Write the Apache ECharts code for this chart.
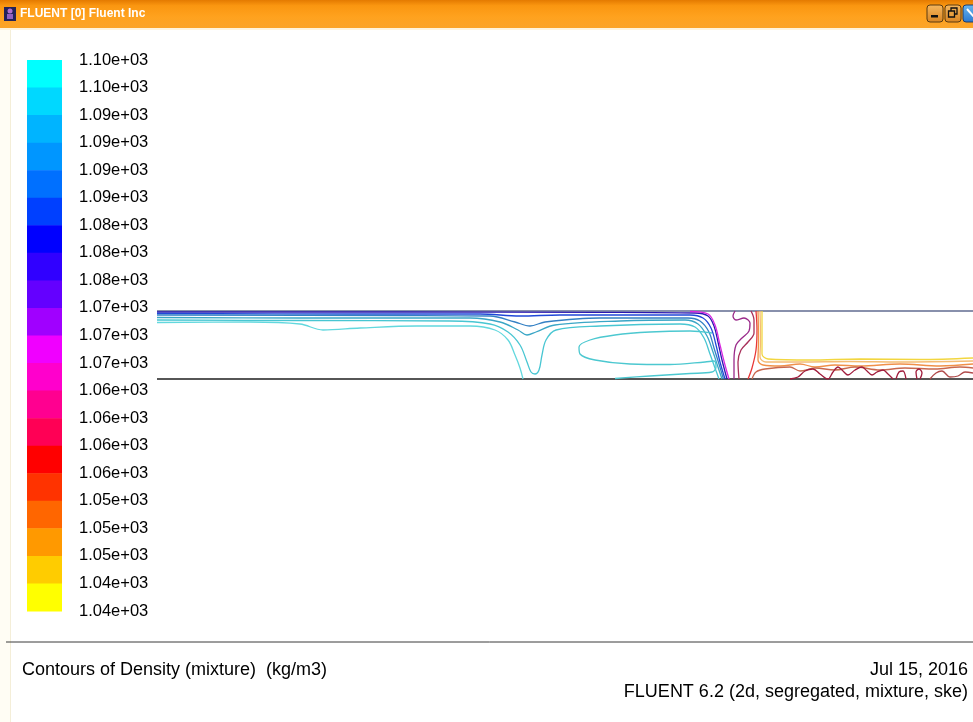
<!DOCTYPE html>
<html>
<head>
<meta charset="utf-8">
<title>Contours of Density (mixture)</title>
<script src="https://cdn.jsdelivr.net/npm/echarts@6/dist/echarts.min.js"></script>
<style>
  html, body { margin: 0; padding: 0; background: #fff; }
  #chart { width: 973px; height: 722px; }
</style>
</head>
<body>
<div id="chart"></div>
<script>
// colour bar: 21 levels (top = max), 20 bands
const levelLabels = [
  "1.10e+03", "1.10e+03", "1.09e+03", "1.09e+03", "1.09e+03", "1.09e+03",
  "1.08e+03", "1.08e+03", "1.08e+03", "1.07e+03", "1.07e+03", "1.07e+03",
  "1.06e+03", "1.06e+03", "1.06e+03", "1.06e+03", "1.05e+03", "1.05e+03",
  "1.05e+03", "1.04e+03", "1.04e+03"
];
const bandColors = [
  "#00ffff", "#00d8ff", "#00b4ff", "#0096ff", "#0070ff", "#0040ff", "#0000ff",
  "#3000ff", "#6400ff", "#a000ff", "#f000ff", "#ff00cc", "#ff0090", "#ff0055",
  "#ff0000", "#ff3300", "#ff6600", "#ff9900", "#ffcc00", "#ffff00"
];

// channel geometry (mm)
const channelLength = 816;
const channelHeight = 68;

// contour lines, [x, y] in mm
const wallLayerA = [[0,67],[243,67],[443,66.7],[538,66],[551,63],[557,53],[561,37],[565,19],[570,0]];
const wallLayerB = [[0,65.5],[193,65],[323,65],[363,63],[403,64],[533,64],[546,61],[554,51],[559,34],[563,17],[568,0]];
const wallLayerC = [[0,64],[243,63.5],[333,63],[358,57],[373,53],[388,57],[443,61],[531,61],[543,58],[552,47],[557,31],[562,15],[566.5,0]];
const wallLayerD = [[0,61.5],[143,61],[313,61],[343,57],[361,49],[370,44],[379,47],[398,54],[463,58],[528,59],[541,55],[550,43],[556,27],[561,12],[565,0]];
const wallLayerE = [[0,59],[143,58.5],[293,58],[333,55],[351,47],[363,34],[370,17],[374,7],[378,5],[382,9],[385,24],[389,39],[399,49],[443,53],[523,55],[538,52],[547,41],[553,25],[558,11],[562,0]];
const wallLayerF = [[0,56.5],[93,57],[143,55],[166,49],[203,51],[260,53],[313,53],[338,49],[351,39],[358,24],[363,11],[366,0]];
const frontMagenta = [[533,67.5],[551,65],[558,54],[563,34],[568,14],[572,0]];
const eddyLoop = [[555,46],[533,48],[493,47],[458,44],[433,39],[422,32],[423,25],[438,19],[473,15],[513,14.5],[548,17],[557,18],[559,12],[555,7],[533,5.5],[493,3],[458,0.5]];
const wakePurple = [[577,0],[577,19],[579,34],[585,41],[592,48],[593,56],[587,61],[579,59],[576,63],[578,68]];
const wakeDarkRed = [[582,0],[581,17],[584,29],[591,37],[597,46],[597,59],[594,68]];
const wakeRed = [[599,68],[600,49],[599,29],[595,11],[591,0]];
const layerOrange = [[601,68],[601.5,39],[601,19],[606,14],[623,13],[643,15],[658,12],[678,14],[703,13],[743,15],[783,13],[816,15]];
const layerLightOrange = [[603,68],[603.5,39],[603,22],[609,17],[643,17],[693,17.5],[743,17],[816,18]];
const layerYellow = [[605,68],[605,39],[605,25],[611,20],[653,19],[703,20],[763,19.5],[816,21]];
const layerBrown = [[595,0],[599,7],[608,10],[633,12],[643,8],[658,11],[678,9],[698,12],[723,9],[748,11],[778,10],[803,12],[816,11]];
const wavesDarkRed = [[633,0],[641,2],[648,8],[656,10],[663,5],[671,0],[676,7],[681,12],[686,8],[691,4],[698,9],[705,12],[710,8],[715,4],[720,7],[726,9],[731,5],[736,0]];
const waveSmallArch = [[739,0],[742,7],[746,8],[749,0]];
const waveSmallLoop = [[760,0],[759,7],[762,10],[765,6],[763,0]];
const waveTail = [[773,0],[779,6],[785,8],[793,2],[801,3],[808,7],[816,6]];

const contours = [
  { data: wallLayerA, color: "#2a18b0" },
  { data: wallLayerB, color: "#2048d8" },
  { data: wallLayerC, color: "#3480c4" },
  { data: wallLayerD, color: "#3aa6c6" },
  { data: wallLayerE, color: "#48c6d2" },
  { data: wallLayerF, color: "#62d8de" },
  { data: frontMagenta, color: "#d828e0" },
  { data: eddyLoop, color: "#4cc8d0" },
  { data: wakePurple, color: "#9a2a8a" },
  { data: wakeDarkRed, color: "#a8305a" },
  { data: wakeRed, color: "#e83838" },
  { data: layerOrange, color: "#f09048" },
  { data: layerLightOrange, color: "#f4bc74" },
  { data: layerYellow, color: "#f2d640" },
  { data: layerBrown, color: "#c8684e" },
  { data: wavesDarkRed, color: "#a01c3c" },
  { data: waveSmallArch, color: "#a01c3c" },
  { data: waveSmallLoop, color: "#a01c3c" },
  { data: waveTail, color: "#b04a4a" }
];

const chart = echarts.init(document.getElementById("chart"), null, { renderer: "canvas" });
const font = "'Liberation Sans', Arial, sans-serif";

const contourSeries = contours.map((c) => ({
  type: "line",
  xAxisIndex: 0,
  yAxisIndex: 0,
  data: c.data,
  showSymbol: false,
  smooth: 0.35,
  silent: true,
  clip: false,
  lineStyle: { color: c.color, width: 1.3 }
}));

const option = {
  animation: false,
  backgroundColor: "#ffffff",
  grid: [
    { left: 157, right: 0, top: 311, bottom: 343 },
    { left: 27, top: 60, width: 35, height: 551 }
  ],
  xAxis: [
    { type: "value", gridIndex: 0, min: 0, max: channelLength, show: false },
    { type: "value", gridIndex: 1, min: 0, max: 1, show: false }
  ],
  yAxis: [
    { type: "value", gridIndex: 0, min: 0, max: channelHeight, show: false },
    {
      type: "value", gridIndex: 1, min: 0, max: 20, interval: 1, position: "right",
      axisLine: { show: false }, axisTick: { show: false }, splitLine: { show: false },
      axisLabel: {
        show: true, margin: 17, color: "#000", fontSize: 16.5, fontFamily: font,
        showMinLabel: true, showMaxLabel: true,
        formatter: (v) => levelLabels[20 - v]
      }
    }
  ],
  graphic: [
    {
      type: "rect", shape: { x: 0, y: 0, width: 973, height: 28 },
      style: {
        fill: new echarts.graphic.LinearGradient(0, 0, 0, 1, [
          { offset: 0, color: "#e47a00" },
          { offset: 0.2, color: "#fa9610" },
          { offset: 0.6, color: "#ffa21e" },
          { offset: 1, color: "#fba428" }
        ])
      }
    },
    { type: "rect", shape: { x: 0, y: 28, width: 973, height: 2 }, style: { fill: "#fff4dc" } },
    { type: "rect", shape: { x: 0, y: 30, width: 10, height: 692 }, style: { fill: "#fffdf4" } },
    { type: "rect", shape: { x: 10, y: 30, width: 1, height: 692 }, style: { fill: "#f4eed8" } },
    { type: "rect", shape: { x: 4, y: 7, width: 12, height: 14 }, style: { fill: "#23235a" } },
    { type: "circle", shape: { cx: 10, cy: 11, r: 2.5 }, style: { fill: "#b070d0" } },
    { type: "rect", shape: { x: 7, y: 14, width: 6, height: 5 }, style: { fill: "#9060c0" } },
    {
      type: "text", x: 20, y: 14,
      style: {
        text: "FLUENT [0] Fluent Inc", fill: "#ffffff", fontSize: 12, fontWeight: "bold",
        fontFamily: "'Liberation Sans Narrow', 'Liberation Sans', Arial", verticalAlign: "middle"
      }
    },
    {
      type: "rect", shape: { x: 927, y: 5, width: 16, height: 17, r: 3 },
      style: {
        fill: new echarts.graphic.LinearGradient(0, 0, 0, 1, [
          { offset: 0, color: "#f6b860" }, { offset: 1, color: "#d88420" }
        ]), stroke: "#5a3a10", lineWidth: 1
      }
    },
    { type: "rect", shape: { x: 931, y: 15, width: 7, height: 2.5 }, style: { fill: "#111" } },
    {
      type: "rect", shape: { x: 945, y: 5, width: 16, height: 17, r: 3 },
      style: {
        fill: new echarts.graphic.LinearGradient(0, 0, 0, 1, [
          { offset: 0, color: "#f6b860" }, { offset: 1, color: "#d88420" }
        ]), stroke: "#5a3a10", lineWidth: 1
      }
    },
    { type: "rect", shape: { x: 951, y: 8, width: 6, height: 6 }, style: { fill: "none", stroke: "#111", lineWidth: 1.3 } },
    { type: "rect", shape: { x: 948.5, y: 11, width: 6, height: 6 }, style: { fill: "#e8a040", stroke: "#111", lineWidth: 1.3 } },
    {
      type: "rect", shape: { x: 963, y: 5, width: 16, height: 17, r: 3 },
      style: {
        fill: new echarts.graphic.LinearGradient(0, 0, 0, 1, [
          { offset: 0, color: "#6ab8f0" }, { offset: 1, color: "#2a78d0" }
        ]), stroke: "#1a3a6a", lineWidth: 1
      }
    },
    { type: "line", shape: { x1: 967, y1: 9, x2: 975, y2: 18 }, style: { stroke: "#fff", lineWidth: 2 } },
    { type: "line", shape: { x1: 6, y1: 642, x2: 973, y2: 642 }, style: { stroke: "#3a3a3a", lineWidth: 1 } },
    {
      type: "text", x: 22, y: 670,
      style: { text: "Contours of Density (mixture)  (kg/m3)", fill: "#000", fontSize: 18, fontFamily: font, verticalAlign: "middle" }
    },
    {
      type: "text", x: 968, y: 670,
      style: { text: "Jul 15, 2016", fill: "#000", fontSize: 18, fontFamily: font, align: "right", verticalAlign: "middle" }
    },
    {
      type: "text", x: 968, y: 692,
      style: { text: "FLUENT 6.2 (2d, segregated, mixture, ske)", fill: "#000", fontSize: 18, fontFamily: font, align: "right", verticalAlign: "middle" }
    }
  ],
  series: [
    {
      type: "custom",
      xAxisIndex: 1,
      yAxisIndex: 1,
      silent: true,
      data: bandColors.map((c, i) => [i]),
      renderItem: (params, api) => {
        const i = api.value(0);
        const p0 = api.coord([0, 20 - i]);
        const p1 = api.coord([1, 19 - i]);
        return {
          type: "rect",
          shape: { x: p0[0], y: p0[1], width: p1[0] - p0[0], height: p1[1] - p0[1] + 0.5 },
          style: { fill: bandColors[i] }
        };
      }
    },
    {
      type: "line",
      data: [[0, 0], [channelLength, 0]],
      showSymbol: false, silent: true, clip: false,
      lineStyle: { color: "#1e1e1e", width: 1.5 }
    },
    {
      type: "line",
      data: [[0, channelHeight], [channelLength, channelHeight]],
      showSymbol: false, silent: true, clip: false,
      lineStyle: { color: "#8890ac", width: 2 }
    },
    ...contourSeries
  ]
};

chart.setOption(option);
</script>
</body>
</html>
